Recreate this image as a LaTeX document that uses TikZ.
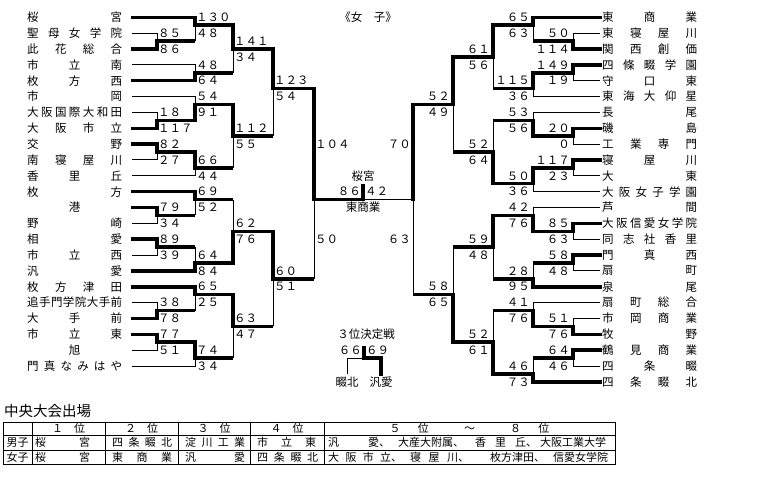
\documentclass[tikz,border=0pt]{standalone}
\usepackage{fontspec}
\setmainfont{Noto Sans CJK JP}

\begin{document}
\begin{tikzpicture}[x=1pt, y=-15.85pt]
        \tikzstyle{team}    = [anchor=west, inner sep=0pt, font=\fontsize{11.5}{12}\selectfont]
        \tikzstyle{score}   = [inner sep=0pt, font=\fontsize{11.5}{12}\selectfont]
        \tikzstyle{cell}    = [inner sep=0pt, font=\fontsize{11}{12}\selectfont]
        \tikzstyle{win}     = [line width=3.5pt, line cap=rect]
        \tikzstyle{lose}    = [line width=1pt]
        \tikzstyle{adv}     = [win, shorten >=1.75pt]
        \tikzstyle{tabline} = [line width=1pt]

        \useasboundingbox (0,-0.0915) rectangle (757,30.066);

        % 試合の位置.
        \foreach \m/\x/\rw in {
                  m157a/157/2.5, m157b/157/7.5, m157c/157/9.5, m157d/157/13.5,
                  m157e/157/15.5, m157f/157/19.5, m157g/157/21.5,
                  m195a/195/1.5, m195b/195/4.5, m195c/195/6.5, m195d/195/10.5,
                  m195e/195/12.5, m195f/195/16.5, m195g/195/18.5, m195h/195/22.5,
                  m233a/233/3, m233b/233/8.5, m233c/233/14.5, m233d/233/20.5,
                  m273a/273/5.5, m273b/273/17.5, m314/314/12.5,
                  m573a/573/2.5, m573b/573/4.5, m573c/573/8.5, m573d/573/10.5,
                  m573e/573/14.5, m573f/573/16.5, m573g/573/20.5, m573h/573/22.5,
                  m533a/533/1.5, m533b/533/5.5, m533c/533/7.5, m533d/533/11.5,
                  m533e/533/13.5, m533f/533/17.5, m533g/533/19.5, m533h/533/23.5,
                  m493a/493/3.5, m493b/493/9.5, m493c/493/15.5, m493d/493/21.5,
                  m453a/453/6.5, m453b/453/18.5, m413/413/12.5}
            \coordinate (\m) at (\x,\rw);

        % 左側の学校.
        \foreach \rw/\nm/\m/\w in {
                  1/桜\hfill 宮/m195a/win,
                  2/聖\hfill 母\hfill 女\hfill 学\hfill 院/m157a/lose,
                  3/此\hfill 花\hfill 総\hfill 合/m157a/win,
                  4/市\hfill 立\hfill 南/m195b/lose,
                  5/枚\hfill 方\hfill 西/m195b/win,
                  6/市\hfill 岡/m195c/lose,
                  7/大\hfill 阪\hfill 国\hfill 際\hfill 大\hfill 和\hfill 田/m157b/lose,
                  8/大\hfill 阪\hfill 市\hfill 立/m157b/win,
                  9/交\hfill 野/m157c/win,
                 10/南\hfill 寝\hfill 屋\hfill 川/m157c/lose,
                 11/香\hfill 里\hfill 丘/m195d/lose,
                 12/枚\hfill 方/m195e/win,
                 13/\hfill 港\hfill/m157d/win,
                 14/野\hfill 崎/m157d/lose,
                 15/相\hfill 愛/m157e/win,
                 16/市\hfill 立\hfill 西/m157e/lose,
                 17/汎\hfill 愛/m195f/win,
                 18/枚\hfill 方\hfill 津\hfill 田/m195g/win,
                 19/追\hfill 手\hfill 門\hfill 学\hfill 院\hfill 大\hfill 手\hfill 前/m157f/lose,
                 20/大\hfill 手\hfill 前/m157f/win,
                 21/市\hfill 立\hfill 東/m157g/win,
                 22/\hfill 旭\hfill/m157g/lose,
                 23/門\hfill 真\hfill な\hfill み\hfill は\hfill や/m195h/lose} {
            \node[team] (L\rw) at (27,\rw) {\makebox[95pt][s]{\nm}};
            \draw[\w] ([xshift=10pt]L\rw.east) -| (\m);
        }

        % 右側の学校.
        \foreach \rw/\nm/\m/\w in {
                  1/東\hfill 商\hfill 業/m533a/win,
                  2/東\hfill 寝\hfill 屋\hfill 川/m573a/lose,
                  3/関\hfill 西\hfill 創\hfill 価/m573a/win,
                  4/四\hfill 條\hfill 畷\hfill 学\hfill 園/m573b/win,
                  5/守\hfill 口\hfill 東/m573b/lose,
                  6/東\hfill 海\hfill 大\hfill 仰\hfill 星/m533b/lose,
                  7/長\hfill 尾/m533c/lose,
                  8/磯\hfill 島/m573c/win,
                  9/工\hfill 業\hfill 専\hfill 門/m573c/lose,
                 10/寝\hfill 屋\hfill 川/m573d/win,
                 11/大\hfill 東/m573d/lose,
                 12/大\hfill 阪\hfill 女\hfill 子\hfill 学\hfill 園/m533d/lose,
                 13/芦\hfill 間/m533e/lose,
                 14/大\hfill 阪\hfill 信\hfill 愛\hfill 女\hfill 学\hfill 院/m573e/win,
                 15/同\hfill 志\hfill 社\hfill 香\hfill 里/m573e/lose,
                 16/門\hfill 真\hfill 西/m573f/win,
                 17/扇\hfill 町/m573f/lose,
                 18/泉\hfill 尾/m533f/win,
                 19/扇\hfill 町\hfill 総\hfill 合/m533g/lose,
                 20/市\hfill 岡\hfill 商\hfill 業/m573g/lose,
                 21/牧\hfill 野/m573g/win,
                 22/鶴\hfill 見\hfill 商\hfill 業/m573h/win,
                 23/四\hfill 条\hfill 畷/m573h/lose,
                 24/四\hfill 条\hfill 畷\hfill 北/m533h/win} {
            \node[team] (R\rw) at (602,\rw) {\makebox[95pt][s]{\nm}};
            \draw[\w] ([xshift=-2pt]R\rw.west) -| (\m);
        }

        % 勝ち上がりの線.
        \foreach \src/\dst/\w in {
                  m157a/m195a/lose, m157b/m195c/win, m157c/m195d/win, m157d/m195e/lose,
                  m157e/m195f/lose, m157f/m195g/lose, m157g/m195h/win,
                  m195a/m233a/win, m195b/m233a/lose, m195c/m233b/win, m195d/m233b/lose,
                  m195e/m233c/lose, m195f/m233c/win, m195g/m233d/win, m195h/m233d/lose,
                  m233a/m273a/win, m233b/m273a/lose, m233c/m273b/win, m233d/m273b/lose,
                  m273a/m314/win, m273b/m314/lose,
                  m573a/m533a/lose, m573b/m533b/win, m573c/m533c/win, m573d/m533d/win,
                  m573e/m533e/win, m573f/m533f/lose, m573g/m533g/win, m573h/m533h/lose,
                  m533a/m493a/win, m533b/m493a/lose, m533c/m493b/lose, m533d/m493b/win,
                  m533e/m493c/win, m533f/m493c/lose, m533g/m493d/lose, m533h/m493d/win,
                  m493a/m453a/win, m493b/m453a/lose, m493c/m453b/lose, m493d/m453b/win,
                  m453a/m413/win, m453b/m413/lose} {
            \draw[adv] (\src) -- (\src -| \dst);
            \draw[\w] (\src -| \dst) -- (\dst);
        }

        % 得点.
        \foreach \m/\sa/\sb in {
                  m157a/８５/８６, m157b/１８/１１７, m157c/８２/２７, m157d/７９/３４,
                  m157e/８９/３９, m157f/３８/７８, m157g/７７/５１,
                  m195a/１３０/４８, m195b/４８/６４, m195c/５４/９１, m195d/６６/４４,
                  m195e/６９/５２, m195f/６４/８４, m195g/６５/２５, m195h/７４/３４,
                  m233a/１４１/３４, m233b/１１２/５５, m233c/６２/７６, m233d/６３/４７,
                  m273a/１２３/５４, m273b/６０/５１} {
            \node[score, anchor=west] (\m-t) at ([shift={(1,-0.5)}]\m) {\sa};
            \node[score, anchor=west] (\m-b) at ([shift={(1,0.5)}]\m) {\sb};
        }
        \foreach \m/\sa/\sb in {
                  m573a/５０/１１４, m573b/１４９/１９, m573c/２０/０, m573d/１１７/２３,
                  m573e/８５/６３, m573f/５８/４８, m573g/５１/７６, m573h/６４/４６,
                  m533a/６５/６３, m533b/１１５/３６, m533c/５３/５６, m533d/５０/３６,
                  m533e/４２/７６, m533f/２８/９５, m533g/４１/７６, m533h/４６/７３,
                  m493a/６１/５６, m493b/５２/６４, m493c/５９/４８, m493d/５２/６１,
                  m453a/５２/４９, m453b/５８/６５} {
            \node[score, anchor=east] (\m-t) at ([shift={(-3,-0.5)}]\m) {\sa};
            \node[score, anchor=east] (\m-b) at ([shift={(-3,0.5)}]\m) {\sb};
        }

        % 準決勝と決勝.
        \node[score, anchor=west] (m314-t) at (315,9)  {１０４};
        \node[score, anchor=west] (m314-b) at (315,15) {５０};
        \node[score, anchor=east] (m413-t) at (411,9)  {７０};
        \node[score, anchor=east] (m413-b) at (411,15) {６３};

        \node[score] (title) at (368,1) {《女　子》};

        \coordinate (fin) at (363,12.5);
        \coordinate (fintop) at (363,11.6);
        \draw[adv]  (m314) -- (fin);
        \draw[lose] (m413) -- (fin);
        \draw[win]  (fin) -- (fintop);
        \node[score] (champ)  at (363,11) {桜宮};
        \node[score] (runner) at (363,13) {東商業};
        \node[score, anchor=east] (fin-l) at (361,12) {８６};
        \node[score, anchor=west] (fin-r) at (365,12) {４２};

        % ３位決定戦.
        \node[score] (third) at (366,21) {３位決定戦};
        \coordinate (t3) at (364,22.5);
        \coordinate (t3top) at (364,21.85);
        \node[score] (k3a) at (347,24) {畷北};
        \node[score] (k3b) at (381,24) {汎愛};
        \draw[lose] ([yshift=2pt]k3a.north) |- (t3);
        \draw[win]  ([yshift=2pt]k3b.north) |- (t3);
        \draw[win]  (t3) -- (t3top);
        \node[score, anchor=east] (t3-l) at (362,22) {６６};
        \node[score, anchor=west] (t3-r) at (366,22) {６９};

        % 中央大会出場の表.
        \begin{scope}[yshift=1.45pt, y=-1pt]
            \node[anchor=west, inner sep=0pt, font=\fontsize{14.5}{15}\selectfont] (kaijo) at (4,411) {中央大会出場};
            \draw[tabline] (3,422) rectangle (615,464.5);
            \foreach \yy in {435.5, 450}
                \draw[tabline] (3,\yy) -- (615,\yy);
            \foreach \xx in {32, 105, 178, 250, 324}
                \draw[tabline] (\xx,422) -- (\xx,464.5);

            \foreach \xx/\bw/\nm [count=\k] in {
                      68.5/33/１\hfill 位, 141.5/33/２\hfill 位, 214/33/３\hfill 位, 287/33/４\hfill 位,
                      469.5/160/５\hfill 位\hfill\hfill ～\hfill\hfill ８\hfill 位}
                \node[cell] (head\k) at (\xx,428.75) {\makebox[\bw pt][s]{\nm}};

            \node[cell] (dan0) at (17.5,442.75) {男子};
            \node[cell] (jo0)  at (17.5,457.25) {女子};

            \foreach \xx/\bw/\nm [count=\k] in {
                      35/55/桜\hfill 宮, 112/60/四\hfill 条\hfill 畷\hfill 北,
                      185/60/淀\hfill 川\hfill 工\hfill 業, 257/59/市\hfill 立\hfill 東,
                      328/62/汎\hfill 愛、, 398/66/大産大附属、\hfill,
                      475/62/香\hfill 里\hfill 丘、, 540/67/大阪工業大学\hfill}
                \node[cell, anchor=west] (dan\k) at (\xx,442.75) {\makebox[\bw pt][s]{\nm}};

            \foreach \xx/\bw/\nm [count=\k] in {
                      35/55/桜\hfill 宮, 112/60/東\hfill 商\hfill 業,
                      185/60/汎\hfill 愛, 257/61/四\hfill 条\hfill 畷\hfill 北,
                      328/74/大\hfill 阪\hfill 市\hfill 立、, 410/59/寝\hfill 屋\hfill 川、,
                      490/56/枚方津田、\hfill, 553/56/信愛女学院\hfill}
                \node[cell, anchor=west] (jo\k) at (\xx,457.25) {\makebox[\bw pt][s]{\nm}};
        \end{scope}
    \end{tikzpicture}
\end{document}
